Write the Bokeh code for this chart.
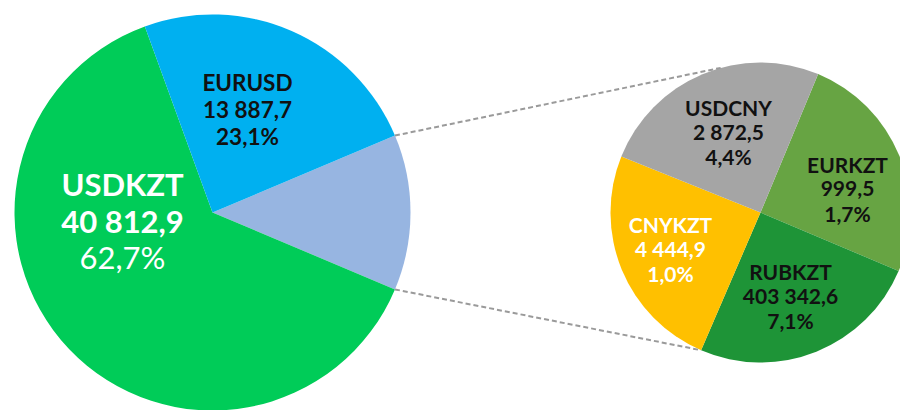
import numpy as np
from bokeh.plotting import figure
from bokeh.models import Range1d, ColumnDataSource
from bokeh.core.properties import value
from bokeh.embed import file_html
from bokeh.resources import INLINE

# ---------------- data ----------------
# main pie, clockwise starting with the "other" slice (centred on the right)
main_names = ["Other", "USDKZT", "EURUSD"]
main_values = ["", "40 812,9", "13 887,7"]
main_pcts = ["", "62,7%", "23,1%"]
main_share = [12.7, 63.1, 24.2]          # slice sizes as drawn (percent)
main_colors = ["#97B5E1", "#00CC58", "#00B0F0"]

# secondary pie (breakdown of "Other"), clockwise
sec_names = ["EURKZT", "RUBKZT", "CNYKZT", "USDCNY"]
sec_values = ["999,5", "403 342,6", "4 444,9", "2 872,5"]
sec_pcts = ["1,7%", "7,1%", "1,0%", "4,4%"]
sec_share = [25.1, 25.1, 24.6, 25.2]      # slice sizes as drawn (percent)
sec_colors = ["#67A443", "#1E9437", "#FFC000", "#A5A5A5"]

# ---------------- layout (screen pixels of a 900x410 page) ----------------
W, H = 900, 410
OX, OY = 0, 0   # observed placement of the figure on the page
def Y(sy):
    return 410 - sy

MAIN_C = (212, Y(212)); MAIN_R = 198
SEC_C = (760, Y(212)); SEC_R = 150
SEC_START = 22.6   # clockwise from top, degrees

main_label_pos = {"USDKZT": (122, 220, 36.5, 31, "white"),
                  "EURUSD": (247, 109, 27, 22.5, "#111111")}
sec_label_pos = {"USDCNY": (728, 131, 24.5, 21, "#111111"),
                 "EURKZT": (847, 188, 24.5, 21, "#111111"),
                 "CNYKZT": (670, 248, 24.5, 21, "white"),
                 "RUBKZT": (790, 295, 24.5, 21, "#111111")}

p = figure(width=W, height=H, output_backend="svg", toolbar_location=None,
           x_range=Range1d(OX, OX + W), y_range=Range1d(Y(OY + H), Y(OY)),
           min_border=0)
p.axis.visible = False
p.grid.visible = False
p.outline_line_color = None
p.background_fill_color = "white"
p.border_fill_color = "white"

def pie(center, r, shares, colors, start_cw):
    deg = np.array(shares) / sum(shares) * 360.0
    ends = start_cw + np.cumsum(deg)
    starts = ends - deg
    src = ColumnDataSource(dict(
        x=[center[0]] * len(shares), y=[center[1]] * len(shares),
        s=list(np.deg2rad(90 - ends)), e=list(np.deg2rad(90 - starts)),
        c=colors))
    p.wedge(x="x", y="y", radius=r, start_angle="s", end_angle="e",
            fill_color="c", line_color=None, source=src)
    return starts, ends

main_deg = np.array(main_share) / sum(main_share) * 360.0
main_start = 90 - main_deg[0] / 2
ms, me = pie(MAIN_C, MAIN_R, main_share, main_colors, main_start)
ss, se = pie(SEC_C, SEC_R, sec_share, sec_colors, SEC_START)

# connector lines from the edges of the "other" slice to the secondary pie
def pt(center, r, theta_cw):
    t = np.deg2rad(90 - theta_cw)
    return center[0] + r * np.cos(t), center[1] + r * np.sin(t)

a0 = pt(MAIN_C, MAIN_R, ms[0]); a1 = pt(MAIN_C, MAIN_R, me[0])
b0 = pt(SEC_C, SEC_R, 344.6)
b1 = pt(SEC_C, SEC_R, se[1])
p.segment(x0=[a0[0], a1[0]], y0=[a0[1], a1[1]], x1=[b0[0], b1[0]], y1=[b0[1], b1[1]],
          line_color="#9a9a9a", line_width=2, line_dash="5 3")

font = value("Lato")

def label(name, val, pct, pos, pct_bold=True):
    x, yc, dy, fs, col = pos
    lines = [name, val, pct]
    styles = ["bold", "bold", "bold" if pct_bold else "normal"]
    for i, (txt, st) in enumerate(zip(lines, styles)):
        p.text(x=[x], y=[Y(yc + (i - 1) * dy)], text=[txt], text_font=font,
               text_font_size=f"{fs}px", text_font_style=st, text_color=col,
               text_align="center", text_baseline="middle")

for n, v, pc in zip(main_names, main_values, main_pcts):
    if n in main_label_pos:
        label(n, v, pc, main_label_pos[n], pct_bold=(n != "USDKZT"))
for n, v, pc in zip(sec_names, sec_values, sec_pcts):
    label(n, v, pc, sec_label_pos[n])

open("out.html", "w").write(file_html(p, INLINE))
